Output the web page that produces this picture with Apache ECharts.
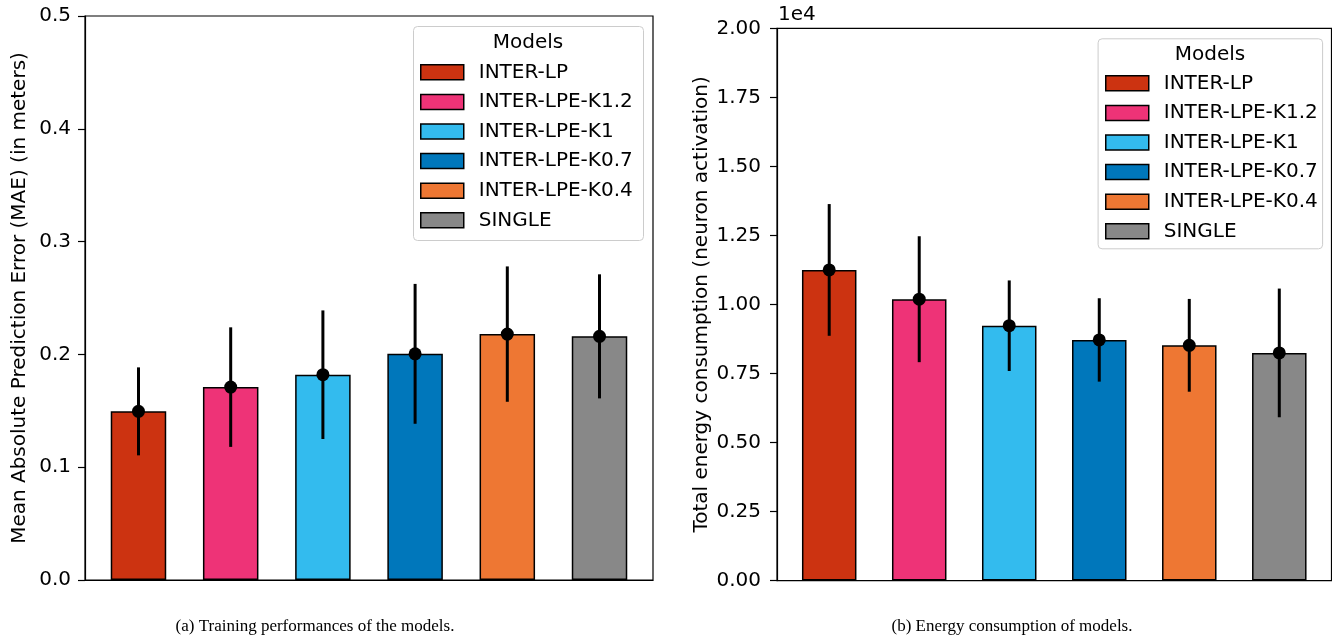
<!DOCTYPE html>
<html>
<head>
<meta charset="utf-8">
<script src="https://cdn.jsdelivr.net/npm/echarts@6/dist/echarts.min.js"></script>
<style>
html,body{margin:0;padding:0;background:#fff;}
#chart{width:1332px;height:636px;}
</style>
</head>
<body>
<div id="chart"></div>
<script>
// ---- data ----
const models = ['INTER-LP', 'INTER-LPE-K1.2', 'INTER-LPE-K1', 'INTER-LPE-K0.7', 'INTER-LPE-K0.4', 'SINGLE'];
const colors = ['#CC3311', '#EE3377', '#33BBEE', '#0077BB', '#EE7733', '#888888'];
const maeMean = [0.1495, 0.171, 0.182, 0.2005, 0.218, 0.216];
const maeErr = [0.039, 0.053, 0.057, 0.062, 0.060, 0.055];
const energyMean = [11250, 10190, 9230, 8715, 8520, 8245];
const energyErr = [2385, 2280, 1640, 1510, 1680, 2330];
const maeTicks = [0, 0.1, 0.2, 0.3, 0.4, 0.5];
const energyTicks = [0, 2500, 5000, 7500, 10000, 12500, 15000, 17500, 20000];
const captionA = '(a) Training performances of the models.';
const captionB = '(b) Energy consumption of models.';
const yNameA = 'Mean Absolute Prediction Error (MAE) (in meters)';
const yNameB = 'Total energy consumption (neuron activation)';

const FONT = 'DejaVu Sans';
const FS = 20;

const chart = echarts.init(document.getElementById('chart'), null, {renderer: 'canvas'});

function errRender(params, api) {
  const x = api.value(0), m = api.value(1), e = api.value(2);
  const t = api.coord([x, m + e]);
  const b = api.coord([x, m - e]);
  const c = api.coord([x, m]);
  return {
    type: 'group',
    children: [
      {type: 'line', shape: {x1: t[0], y1: t[1], x2: b[0], y2: b[1]}, style: {stroke: '#000', lineWidth: 3}},
      {type: 'circle', shape: {cx: c[0], cy: c[1], r: 6.5}, style: {fill: '#000'}}
    ]
  };
}

function barSeries(means, gi, bw) {
  return models.map((name, i) => ({
    name: name,
    type: 'bar',
    xAxisIndex: gi, yAxisIndex: gi,
    barWidth: bw,
    barGap: '-100%',
    data: [[i, means[i]]],
    itemStyle: {color: colors[i], borderColor: '#000', borderWidth: 1.5},
    emphasis: {disabled: true},
    animation: false
  }));
}

function errSeries(means, errs, gi) {
  return {
    type: 'custom',
    xAxisIndex: gi, yAxisIndex: gi,
    renderItem: errRender,
    encode: {x: 0, y: 1},
    data: means.map((m, i) => [i, m, errs[i]]),
    z: 10,
    silent: true,
    animation: false
  };
}

function xAxis(gi) {
  return {
    type: 'value', gridIndex: gi, min: -0.58, max: 5.58,
    axisLabel: {show: false}, axisTick: {show: false}, splitLine: {show: false},
    axisLine: {show: true, onZero: false, lineStyle: {color: '#000', width: 1.2}}
  };
}

function yAxis(gi, ticks, fmt, name, gap, margin) {
  return {
    type: 'value', gridIndex: gi,
    min: ticks[0], max: ticks[ticks.length - 1], interval: ticks[1] - ticks[0],
    axisLine: {show: true, onZero: false, lineStyle: {color: '#000', width: 1.2}},
    axisTick: {show: true, inside: false, length: 7, lineStyle: {color: '#000', width: 1.2}},
    axisLabel: {color: '#000', fontFamily: FONT, fontSize: FS, margin: margin, formatter: fmt, padding: [4, 0, 0, 0]},
    splitLine: {show: false},
    name: name, nameLocation: 'middle', nameRotate: 90, nameGap: gap,
    nameTextStyle: {color: '#000', fontFamily: FONT, fontSize: FS}
  };
}

function legend(left, top) {
  return {
    data: models,
    orient: 'vertical',
    left: left, top: top,
    z: 20,
    icon: 'rect',
    itemWidth: 43, itemHeight: 15, itemGap: 9.6,
    selectedMode: false,
    itemStyle: {borderColor: '#000', borderWidth: 1.5},
    textStyle: {color: '#000', fontFamily: FONT, fontSize: FS, padding: [0, 0, 0, 10]},
    padding: 0
  };
}

const option = {
  animation: false,
  grid: [
    {left: 85, top: 16, width: 568, height: 564, show: true, borderColor: '#000', borderWidth: 1.2, containLabel: false},
    {left: 777, top: 28.3, width: 554.5, height: 552.3, show: true, borderColor: '#000', borderWidth: 1.2, containLabel: false}
  ],
  xAxis: [xAxis(0), xAxis(1)],
  yAxis: [
    yAxis(0, maeTicks, v => v.toFixed(1), yNameA, 55, 14),
    yAxis(1, energyTicks, v => (v / 1e4).toFixed(2), yNameB, 65, 16)
  ],
  legend: [legend(420, 62.3), legend(1105, 73.3)],
  series: [].concat(
    barSeries(maeMean, 0, 55.5),
    [errSeries(maeMean, maeErr, 0)],
    barSeries(energyMean, 1, 54.5),
    [errSeries(energyMean, energyErr, 1)]
  ),
  graphic: {
    z: 1,
    elements: [
      {type: 'rect', left: 413, top: 26, shape: {width: 230, height: 214, r: 4}, style: {fill: 'rgba(255,255,255,0.8)', stroke: '#cccccc', lineWidth: 1}},
      {type: 'text', x: 528, y: 43, style: {text: 'Models', fontFamily: FONT, fontSize: FS, fill: '#000', textAlign: 'center', textVerticalAlign: 'middle'}},
      {type: 'rect', left: 1097.6, top: 38.3, shape: {width: 224.5, height: 210, r: 4}, style: {fill: 'rgba(255,255,255,0.8)', stroke: '#cccccc', lineWidth: 1}},
      {type: 'text', x: 1210, y: 54.3, style: {text: 'Models', fontFamily: FONT, fontSize: FS, fill: '#000', textAlign: 'center', textVerticalAlign: 'middle'}},
      {type: 'text', x: 778, y: 15, style: {text: '1e4', fontFamily: FONT, fontSize: FS, fill: '#000', textAlign: 'left', textVerticalAlign: 'middle'}},
      {type: 'text', x: 315, y: 627, style: {text: captionA, fontFamily: 'Liberation Serif', fontSize: 17, fill: '#000', textAlign: 'center', textVerticalAlign: 'middle'}},
      {type: 'text', x: 1012, y: 627, style: {text: captionB, fontFamily: 'Liberation Serif', fontSize: 17, fill: '#000', textAlign: 'center', textVerticalAlign: 'middle'}}
    ]
  }
};
chart.setOption(option);
</script>
</body>
</html>
